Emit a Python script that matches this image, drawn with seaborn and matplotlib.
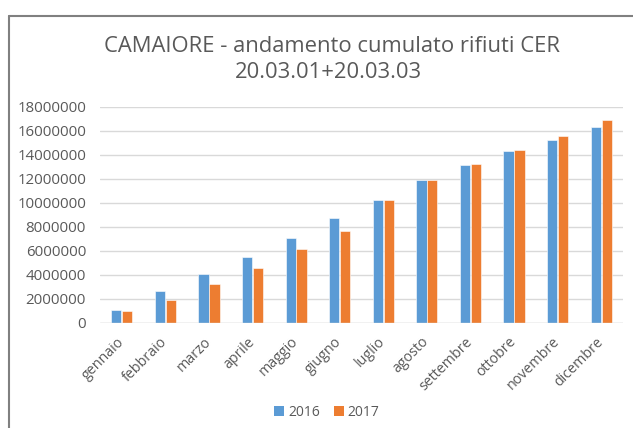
import matplotlib
matplotlib.use("Agg")
import matplotlib.pyplot as plt
import seaborn as sns
import pandas as pd
from matplotlib.lines import Line2D
from matplotlib.patches import Patch

months = ["gennaio", "febbraio", "marzo", "aprile", "maggio", "giugno",
          "luglio", "agosto", "settembre", "ottobre", "novembre", "dicembre"]
v2016 = [1080000, 2640000, 4080000, 5530000, 7080000, 8750000,
         10250000, 11920000, 13140000, 14300000, 15220000, 16360000]
v2017 = [1000000, 1940000, 3250000, 4580000, 6140000, 7670000,
         10250000, 11950000, 13280000, 14420000, 15560000, 16890000]
years = ["2016", "2017"]
yticks = list(range(0, 18000001, 2000000))

df = pd.DataFrame({
    "mese": months * 2,
    "valore": v2016 + v2017,
    "anno": [years[0]] * 12 + [years[1]] * 12,
})

sns.set_theme(style="white")
plt.rcParams["font.family"] = ["Open Sans", "DejaVu Sans"]
txt = "#595959"

fig = plt.figure(figsize=(6.33, 4.28), dpi=100)
ax = fig.add_axes([100 / 633, 1 - 323 / 428, 523 / 633, 216 / 428])

colors = {"2016": "#5B9BD5", "2017": "#ED7D31"}
sns.barplot(data=df, x="mese", y="valore", hue="anno", palette=colors,
            saturation=1, width=0.5, gap=0.06, ax=ax, legend=False, zorder=3,
            edgecolor="white", linewidth=0.4)

ax.set_ylim(0, 18000000)
ax.set_xlim(-0.5, 11.5)
ax.set_yticks(yticks)
ax.set_yticklabels([str(t) for t in yticks], fontsize=10.8, color=txt)
ax.yaxis.grid(True, color="#D9D9D9", linewidth=1, zorder=0)
ax.set_axisbelow(True)
for s in ax.spines.values():
    s.set_visible(False)
ax.tick_params(axis="y", length=0, pad=10)
ax.tick_params(axis="x", length=0, pad=12)
ax.set_xlabel("")
ax.set_ylabel("")
ax.set_xticks(range(12))
ax.set_xticklabels(months, rotation=45, ha="right", va="center",
                   rotation_mode="anchor", fontsize=10.3, color=txt)
ax.axhline(0, color="#D9D9D9", linewidth=1, zorder=4)

fig.text(332 / 633, 1 - 46 / 428, "CAMAIORE - andamento cumulato rifiuti CER",
         ha="center", va="center", fontsize=15.8, color=txt)
fig.text(328 / 633, 1 - 73 / 428, "20.03.01+20.03.03",
         ha="center", va="center", fontsize=15.8, color=txt)

handles = [Patch(facecolor=colors[y], edgecolor="none") for y in years]
fig.legend(handles, years, loc="center", bbox_to_anchor=(327 / 633, 1 - 412 / 428),
           ncol=2, frameon=False, fontsize=10, labelcolor=txt,
           handlelength=0.7, handleheight=0.7, handletextpad=0.3, columnspacing=1.0)

# chart border (left and top visible)
fig.add_artist(Line2D([9 / 633, 9 / 633], [0, 1 - 16 / 428], transform=fig.transFigure,
                      color="#808080", linewidth=1.5))
fig.add_artist(Line2D([9 / 633, 1], [1 - 16 / 428, 1 - 16 / 428], transform=fig.transFigure,
                      color="#808080", linewidth=1.5))

fig.savefig("out.png", dpi=100)
